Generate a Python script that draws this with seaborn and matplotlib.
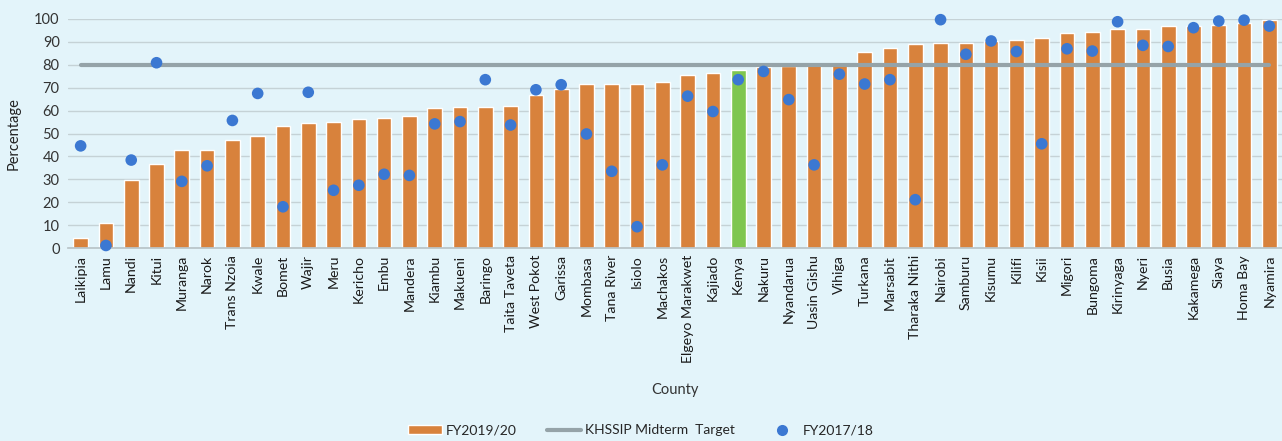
import matplotlib
matplotlib.use("Agg")
import matplotlib.pyplot as plt
import seaborn as sns
import pandas as pd
from matplotlib.patches import Patch
from matplotlib.lines import Line2D

counties = ["Laikipia", "Lamu", "Nandi", "Kitui", "Muranga", "Narok", "Trans Nzoia", "Kwale",
            "Bomet", "Wajir", "Meru", "Kericho", "Embu", "Mandera", "Kiambu", "Makueni",
            "Baringo", "Taita Taveta", "West Pokot", "Garissa", "Mombasa", "Tana River", "Isiolo",
            "Machakos", "Elgeyo Marakwet", "Kajiado", "Kenya", "Nakuru", "Nyandarua",
            "Uasin Gishu", "Vihiga", "Turkana", "Marsabit", "Tharaka Nithi", "Nairobi",
            "Samburu", "Kisumu", "Kilifi", "Kisii", "Migori", "Bungoma", "Kirinyaga", "Nyeri",
            "Busia", "Kakamega", "Siaya", "Homa Bay", "Nyamira"]

fy2019_20 = [4.2, 10.9, 29.8, 36.5, 42.6, 42.7, 47.2, 49.0, 53.3, 54.5, 55.0, 56.2, 56.8, 57.8,
             61.1, 61.6, 61.7, 62.2, 66.8, 69.5, 71.6, 71.6, 71.6, 72.7, 75.5, 76.6, 77.8,
             79.0, 79.5, 79.7, 80.0, 85.5, 87.3, 89.0, 89.4, 89.7, 90.3, 90.7, 91.9, 94.0,
             94.4, 95.6, 95.8, 96.9, 96.9, 97.4, 98.4, 99.7]

fy2017_18 = [44.6, 1.1, 38.4, 80.9, 29.1, 35.9, 55.7, 67.5, 18.0, 68.0, 25.2, 27.4, 32.2, 31.7,
             54.2, 55.2, 73.5, 53.7, 69.1, 71.3, 49.8, 33.5, 9.3, 36.3, 66.3, 59.6, 73.5,
             77.1, 64.8, 36.3, 75.9, 71.6, 73.5, 21.1, 99.7, 84.6, 90.4, 85.8, 45.5, 87.0,
             86.0, 98.8, 88.5, 88.0, 96.2, 99.1, 99.5, 96.9]

target = [80] * len(counties)

orange = "#d8823c"
green = "#7fc64f"
blue = "#3b78d2"
grey_line = "#95a3a8"
bg = "#e3f4fa"

df = pd.DataFrame({"County": counties, "FY2019/20": fy2019_20,
                   "FY2017/18": fy2017_18, "Target": target})
palette = {c: (green if c == "Kenya" else orange) for c in counties}

sns.set_theme(style="white")
plt.rcParams["font.family"] = ["Lato", "DejaVu Sans"]

fig = plt.figure(figsize=(12.82, 4.41), dpi=100, facecolor=bg)
ax = fig.add_axes([68 / 1282, 1 - 248 / 441, 1 - 68 / 1282, (248 - 19) / 441])
ax.set_facecolor(bg)

sns.barplot(data=df, x="County", y="FY2019/20", hue="County", palette=palette,
            order=counties, width=0.58, legend=False, ax=ax, saturation=1, zorder=2)
sns.lineplot(data=df, x="County", y="Target", color=grey_line, linewidth=3, ax=ax, zorder=3)
sns.scatterplot(data=df, x="County", y="FY2017/18", color=blue, s=70, edgecolor="none",
                ax=ax, zorder=4, clip_on=False)

ax.set_xlim(-0.5, len(counties) - 0.5)
ax.set_ylim(0, 100)
ax.set_yticks(range(0, 101, 10))
ax.yaxis.grid(True, color="#c5d2d6", linewidth=1)
ax.set_axisbelow(True)
for s in ["top", "right", "left"]:
    ax.spines[s].set_visible(False)
ax.spines["bottom"].set_color("#b9c4c8")
ax.tick_params(axis="y", labelsize=10.5, colors="#333333", length=0, pad=6)
ax.tick_params(axis="x", labelsize=10.2, colors="#1a1a1a", length=0, pad=5)
plt.setp(ax.get_xticklabels(), rotation=90)
ax.set_ylabel("Percentage", fontsize=10.5, color="#222222", labelpad=10)
ax.set_xlabel("County", fontsize=10.5, color="#333333", labelpad=14)

handles = [Patch(facecolor=orange, label="FY2019/20"),
           Line2D([], [], color=grey_line, linewidth=3, label="KHSSIP Midterm  Target"),
           Line2D([], [], marker="o", color="none", markerfacecolor=blue,
                  markeredgecolor="none", markersize=8, label="FY2017/18")]
fig.legend(handles=handles, loc="lower center", bbox_to_anchor=(0.5, -0.018), ncol=3,
           frameon=False, fontsize=10, columnspacing=2.2, handlelength=2.4,
           handleheight=0.6, handletextpad=0.3)

fig.savefig("out.png", dpi=100, facecolor=bg)
